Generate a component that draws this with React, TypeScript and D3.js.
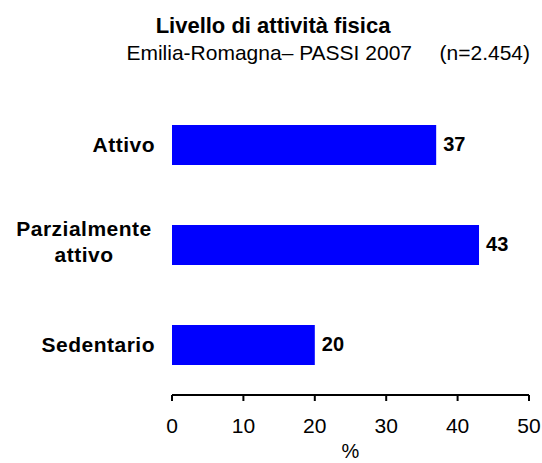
import React from "react";
import * as d3 from "d3";

const categories: string[][] = [["Attivo"], ["Parzialmente", "attivo"], ["Sedentario"]];
const values: number[] = [37, 43, 20];
const xTicks: number[] = [0, 10, 20, 30, 40, 50];
const title = "Livello di attività fisica";
const subtitleLeft = "Emilia-Romagna– PASSI 2007";
const subtitleRight = "(n=2.454)";
const xLabel = "%";

const W = 542;
const H = 463;
const FONT = "Arial, 'Liberation Sans', sans-serif";

export default function App() {
  const x = d3.scaleLinear().domain([0, 50]).range([172, 529]);
  const keys = categories.map((_, i) => String(i));
  const y = d3
    .scaleBand<string>()
    .domain(keys)
    .range([95, 395])
    .paddingInner(0.6)
    .paddingOuter(0.3);
  const axisY = 395;
  return (
    <svg
      width={W}
      height={H}
      style={{ position: "absolute", left: 0, top: 0, background: "#fff" }}
      fontFamily={FONT}
    >
      <rect x={0} y={0} width={W} height={H} fill="#fff" />
      <text x={273} y={33} textAnchor="middle" fontWeight="bold" fontSize={22}>
        {title}
      </text>
      <text x={412} y={60} textAnchor="end" fontSize={21}>
        {subtitleLeft}
      </text>
      <text x={530} y={60} textAnchor="end" fontSize={21}>
        {subtitleRight}
      </text>
      {values.map((v, i) => {
        const yy = y(String(i))!;
        const bw = y.bandwidth();
        const cy = yy + bw / 2;
        const lines = categories[i];
        const multi = lines.length > 1;
        return (
          <g key={i}>
            <rect x={x(0)} y={yy} width={x(v) - x(0)} height={bw} fill="#0000FF" />
            <text x={x(v) + 7} y={cy + 6} fontWeight="bold" fontSize={20}>
              {v}
            </text>
            {lines.map((l, j) => (
              <text
                key={j}
                x={multi ? 84 : 155}
                y={multi ? cy - 9 + j * 26 : cy + 7}
                textAnchor={multi ? "middle" : "end"}
                fontWeight="bold"
                fontSize={21}
                letterSpacing={0.5}
              >
                {l}
              </text>
            ))}
          </g>
        );
      })}
      <line x1={x(0)} x2={x(50)} y1={axisY} y2={axisY} stroke="#000" strokeWidth={2} />
      {xTicks.map((t) => (
        <g key={t}>
          <line x1={x(t)} x2={x(t)} y1={axisY} y2={axisY + 6} stroke="#000" strokeWidth={2} />
          <text x={x(t)} y={433} textAnchor="middle" fontSize={21}>
            {t}
          </text>
        </g>
      ))}
      <text x={x(25)} y={458} textAnchor="middle" fontSize={20}>
        {xLabel}
      </text>
    </svg>
  );
}
